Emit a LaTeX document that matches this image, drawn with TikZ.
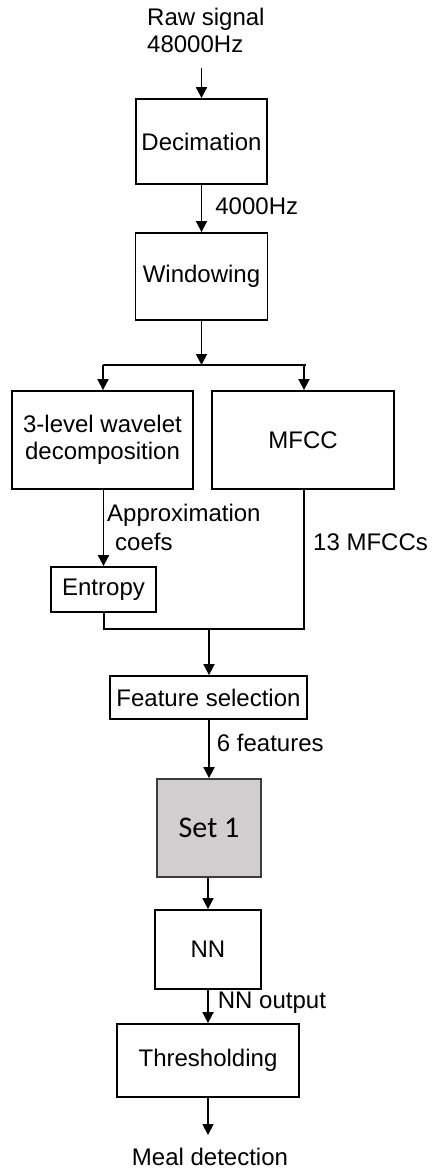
\documentclass[tikz,border=0pt]{standalone}
\usepackage{fontspec}
\setmainfont{Liberation Sans}
\newfontfamily\calib{Carlito}
\usetikzlibrary{arrows.meta}
\begin{document}
\begin{tikzpicture}[x=1pt,y=-1pt,
  every node/.style={font=\fontsize{24}{27}\selectfont},
  box/.style={draw,line width=1.8pt,inner sep=0pt,minimum width=#1},
  lbl/.style={inner sep=0pt,anchor=west},
  arr/.style={line width=1.8pt,-{Triangle[length=11pt,width=11pt]}},
  ln/.style={line width=1.8pt}]
\useasboundingbox (0,0) rectangle (432,1169);
% boxes
\node[box=131pt,minimum height=85pt] (dec) at (201.5,141.5) {Decimation};
\node[box=132pt,minimum height=87pt] (win) at (201.5,276.5) {Windowing};
\node[box=181pt,minimum height=98pt,align=center] (wav) at (102.5,440) {3-level wavelet\\decomposition};
\node[box=182pt,minimum height=98pt] (mfcc) at (303,440) {MFCC};
\node[box=105pt,minimum height=45pt] (ent) at (103.5,589.5) {Entropy};
\node[box=197pt,minimum height=43pt] (fs) at (208.5,697.5) {Feature selection};
\node[box=104pt,minimum height=98pt,fill={rgb,255:red,208;green,206;blue,206},draw={rgb,255:red,60;green,60;blue,60},font=\calib\fontsize{30}{34}\selectfont] (set) at (209,828) {Set 1};
\node[box=106pt,minimum height=79pt] (nn) at (208,949.5) {NN};
\node[box=182pt,minimum height=73pt] (thr) at (208,1060.5) {Thresholding};
% free texts
\node[inner sep=0pt,anchor=north west,align=left] (raw) at (147,8) {Raw signal\\48000Hz};
\node[inner sep=0pt] (meal) at (210,1157) {Meal detection};
% coordinates
\coordinate (rawend) at (201.5,68);
\coordinate (split) at (201.5,365);
\coordinate (sl) at (103,365);
\coordinate (sr) at (304,365);
\coordinate (se) at (306,365);
\coordinate (ml) at (104,629);
\coordinate (mm) at (209,629);
\coordinate (mr) at (304,629);
\coordinate (mealtop) at (208,1135);
% connectors
\draw[arr] (rawend) -- (dec.north);
\draw[arr] (dec.south) -- (win.north) node[lbl,pos=0.45,xshift=13pt] (l4k) {4000Hz};
\draw[arr] (win.south) -- (split);
\draw[ln] (sl) -- (se);
\draw[arr] (sl) -- (sl |- wav.north);
\draw[arr] (sr) -- (sr |- mfcc.north);
\draw[arr] (ent.north |- wav.south) -- (ent.north);
\node[lbl] (approx) at (107,515) {Approximation};
\node[lbl] (coefs) at (115,542) {coefs};
\node[lbl] (m13) at (313,542) {13 MFCCs};
\draw[ln] (ent.south -| ml) -- (ml) -- (mr) -- (mr |- mfcc.south);
\draw[arr] (mm) -- (mm |- fs.north);
\draw[arr] (fs.south -| set.north) -- (set.north) node[lbl,pos=0.4,xshift=7pt] (l6) {6 features};
\draw[arr] (set.south -| nn.north) -- (nn.north);
\draw[arr] (nn.south -| thr.north) -- (thr.north) node[lbl,pos=0.4,xshift=9pt] (lnn) {NN output};
\draw[arr] (thr.south) -- (mealtop);
\end{tikzpicture}
\end{document}
